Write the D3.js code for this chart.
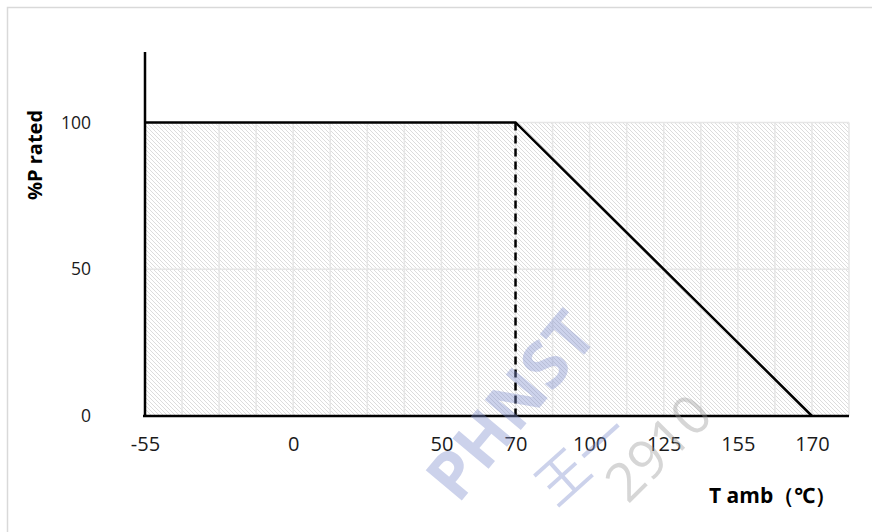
<!DOCTYPE html>
<html>
<head>
<meta charset="utf-8">
<script src="https://cdn.jsdelivr.net/npm/d3@7"></script>
<style>
  body { margin: 0; background: #fff; }
  svg { display: block; font-family: "Open Sans", "Noto Sans", sans-serif; }
</style>
</head>
<body>
<div id="chart"></div>
<script>
// category slots along the temperature axis (blank = unlabelled slot)
var categories = ['-55', '', '', '', '0', '', '', '', '50', '', '70', '', '100', '', '125', '', '155', '', '170', ''];
// full-power region drawn as a hatched area
var areaValues = categories.map(function () { return 100; });
// derating curve
var curve = [
    { t: '-55', p: 100 },
    { t: '70', p: 100 },
    { t: '170', p: 0 }
];
var kneeT = '70';
var yTicks = [0, 50, 100];

var dim = { width: 872, height: 532 };

var svg = d3.select('#chart').append('svg')
    .attr('width', dim.width)
    .attr('height', dim.height);

// chart border (only top/left visible in the frame)
svg.append('rect')
    .attr('x', 7.5).attr('y', 7.5)
    .attr('width', 900).attr('height', 600)
    .attr('fill', 'none')
    .attr('stroke', '#d9d9d9')
    .attr('stroke-width', 1.5);

var defs = svg.append('defs');
var pat = defs.append('pattern')
    .attr('id', 'hatch')
    .attr('patternUnits', 'userSpaceOnUse')
    .attr('width', 4).attr('height', 4);
pat.append('rect').attr('width', 4).attr('height', 4).attr('fill', '#fff');
pat.append('path')
    .attr('d', 'M-1,-1 L5,5 M-1,3 L1,5 M3,-1 L5,1')
    .attr('stroke', '#dcdcdc')
    .attr('stroke-width', 1);

var xScale = d3.scalePoint()
    .domain(d3.range(categories.length))
    .range([145, 849]);

var yScale = d3.scaleLinear()
    .domain([0, 124])
    .range([416, 52]);

function xOf(label) { return xScale(categories.indexOf(label)); }

// hatched area
var area = d3.area()
    .x(function (d, i) { return xScale(i); })
    .y0(yScale(0))
    .y1(function (d) { return yScale(d); });

svg.append('path')
    .datum(areaValues)
    .attr('d', area)
    .attr('fill', 'url(#hatch)');

// gridlines
var grid = svg.append('g').attr('stroke', '#e6e6e6').attr('stroke-width', 1.5);
grid.selectAll('line.v')
    .data(d3.range(1, categories.length))
    .join('line')
    .attr('class', 'v')
    .attr('x1', function (d) { return xScale(d); })
    .attr('x2', function (d) { return xScale(d); })
    .attr('y1', yScale(100))
    .attr('y2', yScale(0));
grid.selectAll('line.h')
    .data(yTicks.filter(function (d) { return d > 0; }))
    .join('line')
    .attr('class', 'h')
    .attr('x1', xScale(0))
    .attr('x2', xScale(categories.length - 1))
    .attr('y1', function (d) { return yScale(d); })
    .attr('y2', function (d) { return yScale(d); });

// axes
var xAxis = d3.axisBottom(xScale)
    .tickSize(0)
    .tickPadding(21)
    .tickFormat(function (i) { return categories[i]; });
var gx = svg.append('g')
    .attr('transform', 'translate(0,' + yScale(0) + ')')
    .call(xAxis);
gx.select('.domain').remove();
gx.selectAll('text')
    .attr('font-size', 20)
    .attr('font-family', '"Open Sans", sans-serif')
    .attr('fill', '#1a1a1a');

var yAxis = d3.axisLeft(yScale)
    .tickValues(yTicks)
    .tickSize(0)
    .tickPadding(54);
var gy = svg.append('g')
    .attr('transform', 'translate(' + xScale(0) + ',0)')
    .call(yAxis);
gy.select('.domain').remove();
gy.selectAll('text')
    .attr('font-size', 17.5)
    .attr('font-family', '"Open Sans", sans-serif')
    .attr('fill', '#1a1a1a');

svg.append('line')
    .attr('x1', xScale(0) - 2).attr('x2', xScale(categories.length - 1))
    .attr('y1', yScale(0)).attr('y2', yScale(0))
    .attr('stroke', '#000').attr('stroke-width', 2.5);
svg.append('line')
    .attr('x1', xScale(0)).attr('x2', xScale(0))
    .attr('y1', yScale(124)).attr('y2', yScale(0))
    .attr('stroke', '#000').attr('stroke-width', 2.5);

// dashed knee line
svg.append('line')
    .attr('x1', xOf(kneeT)).attr('x2', xOf(kneeT))
    .attr('y1', yScale(100)).attr('y2', yScale(0))
    .attr('stroke', '#000').attr('stroke-width', 2.5)
    .attr('stroke-dasharray', '8,5');

// derating curve
var line = d3.line()
    .x(function (d) { return xOf(d.t); })
    .y(function (d) { return yScale(d.p); });
svg.append('path')
    .datum(curve)
    .attr('d', line)
    .attr('fill', 'none')
    .attr('stroke', '#000')
    .attr('stroke-width', 2.5);

// axis titles
svg.append('text')
    .attr('transform', 'translate(42,155) rotate(-90)')
    .attr('text-anchor', 'middle')
    .attr('font-size', 20)
    .attr('font-weight', 'bold')
    .text('%P rated');
svg.append('text')
    .attr('x', 709).attr('y', 503)
    .attr('font-size', 21)
    .attr('font-weight', 'bold')
    .text('T amb（℃）');

// watermark
var wm = svg.append('g').attr('pointer-events', 'none');
wm.append('text')
    .attr('transform', 'translate(458,505) rotate(-50)')
    .attr('font-size', 66)
    .attr('font-weight', 'bold')
    .attr('font-family', '"Open Sans", sans-serif')
    .attr('fill', '#7f8fcc')
    .attr('fill-opacity', 0.4)
    .text('PHNST');
wm.append('text')
    .attr('transform', 'translate(556,508) rotate(-42)')
    .attr('font-size', 52)
    .attr('font-family', '"Noto Sans CJK SC", sans-serif')
    .attr('fill', '#7f8fcc')
    .attr('fill-opacity', 0.4)
    .text('王一');
wm.append('text')
    .attr('transform', 'translate(628,505) rotate(-45)')
    .attr('font-size', 54)
    .attr('font-family', '"Open Sans", sans-serif')
    .attr('fill', '#999')
    .attr('fill-opacity', 0.4)
    .text('2910');
</script>
</body>
</html>
